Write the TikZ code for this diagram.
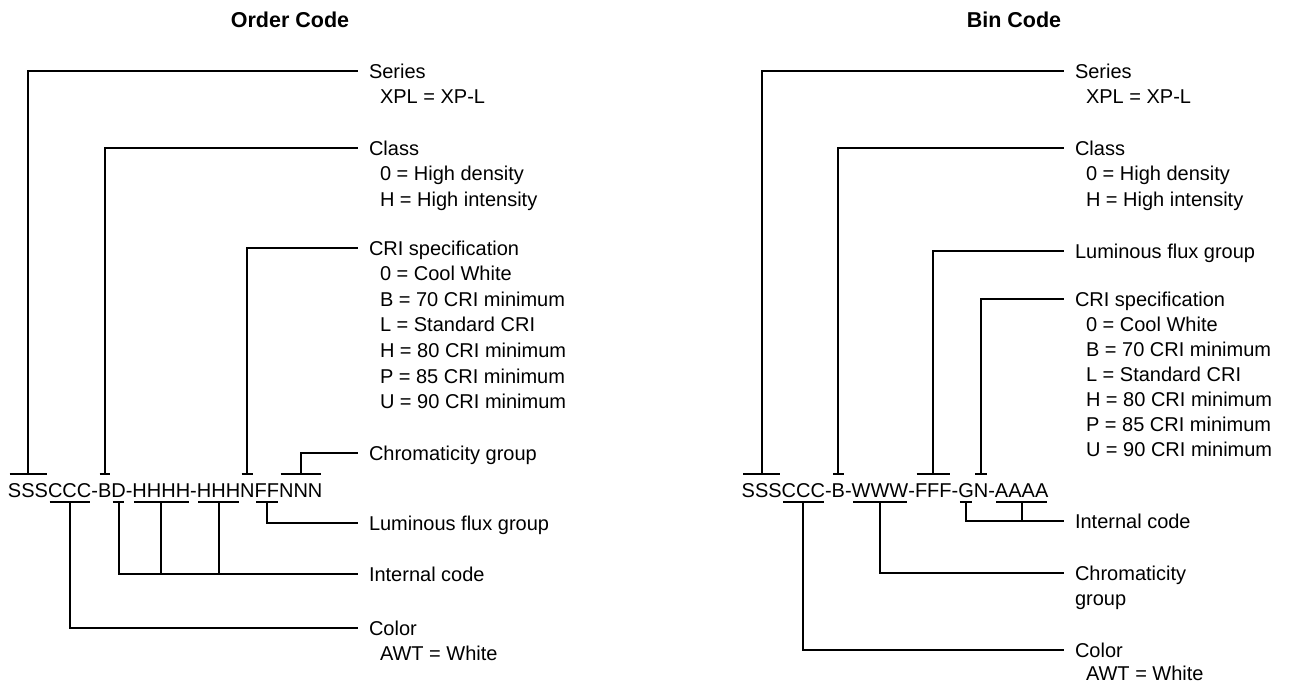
\documentclass[tikz,border=0pt]{standalone}
\usepackage{fontspec}
\setmainfont{Liberation Sans}
\usetikzlibrary{calc,positioning}

\begin{document}
\begin{tikzpicture}[x=1pt,y=-1pt,line width=2pt]
  % Offsets from the code baseline (y grows downwards here)
  \def\tkup{-23} % top tick
  \def\tkdn{5}   % bottom tick
  \def\tkin{1.5} % tick inset
  \def\lsp{25.6} % line pitch of the labels
  \tikzset{
    seg/.style = {inner sep=0pt, outer sep=0pt, anchor=base west, font=\fontsize{20}{24}\selectfont},
    lab/.style = {anchor=west, inner xsep=11pt, inner ysep=0pt, outer sep=0pt,
                  text height=14.3pt, text depth=0pt, font=\fontsize{20}{24}\selectfont},
    ttl/.style = {inner sep=0pt, font=\fontsize{21.5}{24}\selectfont\bfseries}
  }
  \useasboundingbox (0,0) rectangle (1293,685);

  % --- Titles ---
  \node[ttl] (tOrder) at (290,20) {Order Code};
  \node[ttl] (tBin) at (1014,20) {Bin Code};

  % --- Order code: SSSCCC-BD-HHHH-HHHNFFNNN ---
  \node[seg] (oS)   at (8,497)       {SSS};
  \node[seg] (oC)   at (oS.base east)  {CCC};
  \node[seg] (oX1)  at (oC.base east)  {-};
  \node[seg] (oB)   at (oX1.base east) {B};
  \node[seg] (oD)   at (oB.base east)  {D};
  \node[seg] (oX2)  at (oD.base east)  {-};
  \node[seg] (oH4)  at (oX2.base east) {HHHH};
  \node[seg] (oX3)  at (oH4.base east) {-};
  \node[seg] (oH3)  at (oX3.base east) {HHH};
  \node[seg] (oN)   at (oH3.base east) {N};
  \node[seg] (oF)   at (oN.base east)  {FF};
  \node[seg] (oNNN) at (oF.base east)  {NNN};

  % --- Bin code: SSSCCC-B-WWW-FFF-GN-AAAA ---
  \node[seg] (bS)  at (741.7,497)    {SSS};
  \node[seg] (bC)  at (bS.base east)  {CCC};
  \node[seg] (bX1) at (bC.base east)  {-};
  \node[seg] (bB)  at (bX1.base east) {B};
  \node[seg] (bX2) at (bB.base east)  {-};
  \node[seg] (bW)  at (bX2.base east) {WWW};
  \node[seg] (bX3) at (bW.base east)  {-};
  \node[seg] (bF)  at (bX3.base east) {FFF};
  \node[seg] (bX4) at (bF.base east)  {-};
  \node[seg] (bG)  at (bX4.base east) {G};
  \node[seg] (bN)  at (bG.base east)  {N};
  \node[seg] (bX5) at (bN.base east)  {-};
  \node[seg] (bA)  at (bX5.base east) {AAAA};

  % --- Ticks above and below the code letters ---
  \foreach \n in {oS,oB,oN,oNNN,bS,bB,bF,bN} {
    \draw ($(\n.base west)+(\tkin,\tkup)$) -- ($(\n.base east)+(-\tkin,\tkup)$);
    \coordinate (\n-t) at ($(\n.base)+(0,\tkup)$);
  }
  \foreach \n in {oC,oD,oH4,oH3,oF,bC,bW,bG,bA} {
    \draw ($(\n.base west)+(\tkin,\tkdn)$) -- ($(\n.base east)+(-\tkin,\tkdn)$);
    \coordinate (\n-b) at ($(\n.base)+(0,\tkdn)$);
  }

  % --- Labels, order code ---
  \node[lab] (oSer) at (358,71) {Series};
  \node[lab] (oSer-1) at ($(oSer.west)+(11,\lsp)$) {XPL = XP-L};
  \node[lab] (oCla) at (358,148) {Class};
  \foreach \t [count=\i] in {0 = High density, H = High intensity}
    \node[lab] (oCla-\i) at ($(oCla.west)+(11,\i*\lsp)$) {\t};
  \node[lab] (oCri) at (358,248) {CRI specification};
  \foreach \t [count=\i] in {0 = Cool White, B = 70 CRI minimum, L = Standard CRI,
                             H = 80 CRI minimum, P = 85 CRI minimum, U = 90 CRI minimum}
    \node[lab] (oCri-\i) at ($(oCri.west)+(11,\i*\lsp)$) {\t};
  \node[lab] (oChr) at (358,453) {Chromaticity group};
  \node[lab] (oLum) at (358,523) {Luminous flux group};
  \node[lab] (oInt) at (358,574) {Internal code};
  \node[lab] (oCol) at (358,628) {Color};
  \node[lab] (oCol-1) at ($(oCol.west)+(11,\lsp)$) {AWT = White};

  % --- Labels, bin code ---
  \node[lab] (bSer) at (1064,71) {Series};
  \node[lab] (bSer-1) at ($(bSer.west)+(11,\lsp)$) {XPL = XP-L};
  \node[lab] (bCla) at (1064,148) {Class};
  \foreach \t [count=\i] in {0 = High density, H = High intensity}
    \node[lab] (bCla-\i) at ($(bCla.west)+(11,\i*\lsp)$) {\t};
  \node[lab] (bLum) at (1064,251) {Luminous flux group};
  \node[lab] (bCri) at (1064,299) {CRI specification};
  \foreach \t [count=\i] in {0 = Cool White, B = 70 CRI minimum, L = Standard CRI,
                             H = 80 CRI minimum, P = 85 CRI minimum, U = 90 CRI minimum}
    \node[lab] (bCri-\i) at ($(bCri.west)+(11,\i*25)$) {\t};
  \node[lab] (bInt) at (1064,521) {Internal code};
  \node[lab] (bChr) at (1064,573) {Chromaticity};
  \node[lab] (bChr-1) at ($(bChr.west)+(0,\lsp)$) {group};
  \node[lab] (bCol) at (1064,650) {Color};
  \node[lab] (bCol-1) at ($(bCol.west)+(11,23.5)$) {AWT = White};

  % --- Leader lines, order code ---
  \draw (oS-t) |- (oSer.west);
  \draw (oB-t) |- (oCla.west);
  \draw (oN-t) |- (oCri.west);
  \draw (oNNN-t) |- (oChr.west);
  \draw (oF-b) |- (oLum.west);
  \draw (oD-b) |- (oInt.west);
  \draw (oH4-b) -- (oH4-b |- oInt.west);
  \draw (oH3-b) -- (oH3-b |- oInt.west);
  \draw (oC-b) |- (oCol.west);

  % --- Leader lines, bin code ---
  \draw (bS-t) |- (bSer.west);
  \draw (bB-t) |- (bCla.west);
  \draw (bF-t) |- (bLum.west);
  \draw (bN-t) |- (bCri.west);
  \draw (bG-b) |- (bInt.west);
  \draw (bA-b) -- (bA-b |- bInt.west);
  \draw (bW-b) |- (bChr.west);
  \draw (bC-b) |- (bCol.west);
\end{tikzpicture}
\end{document}
